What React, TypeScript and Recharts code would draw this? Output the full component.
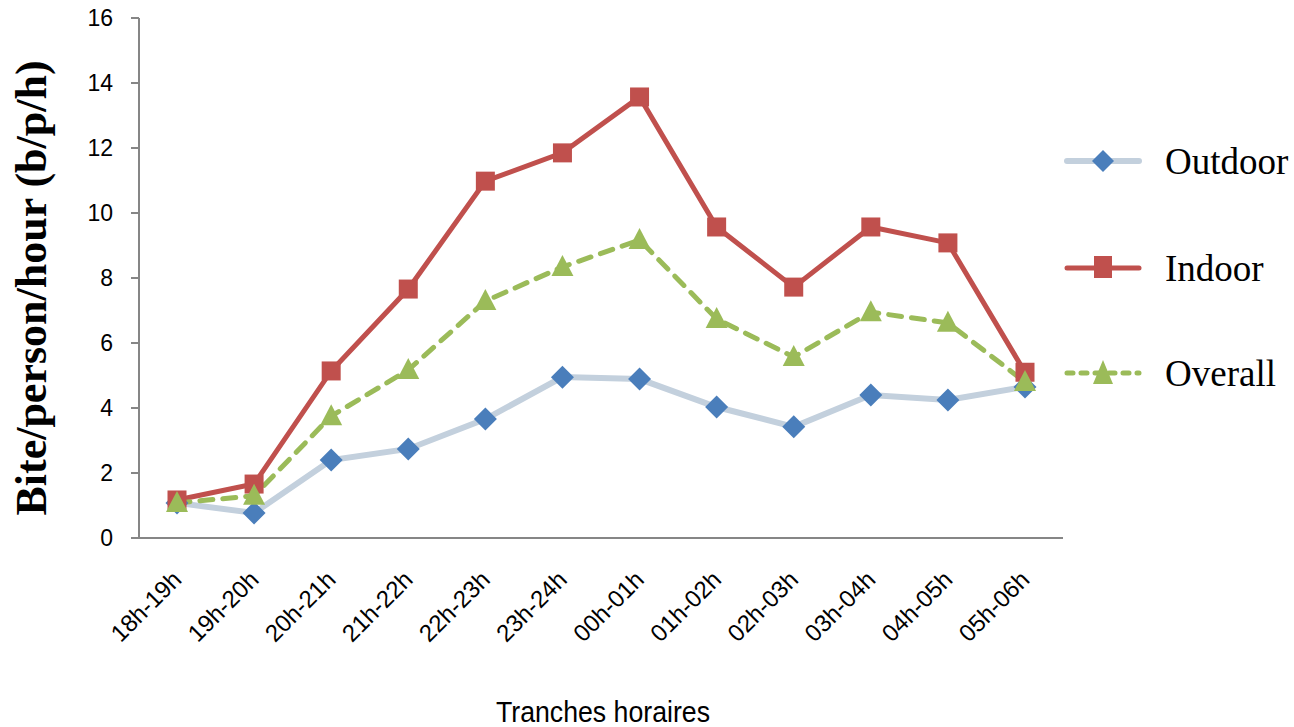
import React from 'react';
import { LineChart, Line, XAxis, YAxis } from 'recharts';

const categories = ['18h-19h', '19h-20h', '20h-21h', '21h-22h', '22h-23h', '23h-24h', '00h-01h', '01h-02h', '02h-03h', '03h-04h', '04h-05h', '05h-06h'];
const outdoor = [1.08, 0.77, 2.4, 2.74, 3.66, 4.95, 4.89, 4.03, 3.42, 4.4, 4.25, 4.65];
const indoor = [1.17, 1.66, 5.14, 7.66, 10.98, 11.85, 13.57, 9.57, 7.72, 9.57, 9.08, 5.1];
const overall = [1.08, 1.3, 3.75, 5.17, 7.29, 8.34, 9.17, 6.74, 5.57, 6.95, 6.62, 4.8];
const yTicks = [0, 2, 4, 6, 8, 10, 12, 14, 16];
const seriesNames = ['Outdoor', 'Indoor', 'Overall'];

const data = categories.map((c, i) => ({ cat: c, Outdoor: outdoor[i], Indoor: indoor[i], Overall: overall[i] }));

const Diamond = (p: any) => {
  const { cx, cy } = p;
  if (cx == null || cy == null) return null;
  const r = 11.5;
  return <polygon key={`d${p.index}`} points={`${cx},${cy - r} ${cx + r},${cy} ${cx},${cy + r} ${cx - r},${cy}`} fill="#4a7ebb" />;
};
const Square = (p: any) => {
  const { cx, cy } = p;
  if (cx == null || cy == null) return null;
  const s = 19;
  return <rect key={`s${p.index}`} x={cx - s / 2} y={cy - s / 2} width={s} height={s} fill="#c0504d" />;
};
const Triangle = (p: any) => {
  const { cx, cy } = p;
  if (cx == null || cy == null) return null;
  return <polygon key={`t${p.index}`} points={`${cx},${cy - 12} ${cx + 11},${cy + 9} ${cx - 11},${cy + 9}`} fill="#9bbb59" />;
};

const XTick = (p: any) => {
  const { x, y, payload } = p;
  const ax = x + 6;
  const ay = y + 35;
  return (
    <text x={ax} y={ay} transform={`rotate(-45 ${ax} ${ay})`} textAnchor="end" fontSize={24} fontFamily="'Liberation Sans', Arial, sans-serif" fill="#000">
      {payload.value}
    </text>
  );
};

const YTick = (p: any) => {
  const { x, y, payload } = p;
  return (
    <text x={x} y={y + 8} textAnchor="end" fontSize={23} fontFamily="'Liberation Sans', Arial, sans-serif" fill="#000">
      {payload.value}
    </text>
  );
};

const YLabel = (p: any) => {
  const vb = p.viewBox || { x: 0, y: 18, height: 520 };
  const x = vb.x + 46;
  const y = vb.y + vb.height / 2 + 10;
  return (
    <text x={x} y={y} transform={`rotate(-90 ${x} ${y})`} textAnchor="middle" fontSize={44} fontWeight="bold" fontFamily="'Liberation Serif', 'Times New Roman', serif" fill="#000">
      Bite/person/hour (b/p/h)
    </text>
  );
};

const XLabel = (p: any) => {
  const vb = p.viewBox || { x: 139, y: 538, width: 924 };
  const x = vb.x + vb.width / 2 - 105;
  const y = vb.y + 184;
  return (
    <text x={x} y={y} textLength={214} lengthAdjust="spacingAndGlyphs" fontSize={30} fontFamily="'Liberation Sans Narrow', 'Liberation Sans', sans-serif" fill="#000">
      Tranches horaires
    </text>
  );
};

const LegendIcon = ({ i }: { i: number }) => {
  const w = 80, h = 30, cy = 15, cx = 40;
  if (i === 0)
    return (
      <svg width={w} height={h}>
        <line x1={4} y1={cy} x2={76} y2={cy} stroke="#c3d0dd" strokeWidth={6} strokeLinecap="round" />
        <polygon points={`${cx},${cy - 11} ${cx + 11},${cy} ${cx},${cy + 11} ${cx - 11},${cy}`} fill="#4a7ebb" />
      </svg>
    );
  if (i === 1)
    return (
      <svg width={w} height={h}>
        <line x1={4} y1={cy} x2={76} y2={cy} stroke="#c0504d" strokeWidth={5} strokeLinecap="round" />
        <rect x={cx - 9} y={cy - 12} width={18} height={22} fill="#c0504d" />
      </svg>
    );
  return (
    <svg width={w} height={h}>
      <line x1={4} y1={cy} x2={76} y2={cy} stroke="#9bbb59" strokeWidth={5} strokeLinecap="round" strokeDasharray="6 8" />
      <polygon points={`${cx},${cy - 13} ${cx + 10},${cy + 11} ${cx - 10},${cy + 11}`} fill="#9bbb59" />
    </svg>
  );
};

const legendTops = [146, 253, 358];

export default function App() {
  return (
    <div style={{ position: 'absolute', left: 0, top: 0, width: 1294, height: 727, background: '#fff' }}>
      <LineChart width={1294} height={727} data={data} margin={{ top: 18, right: 231, bottom: 0, left: 0 }}>
        <XAxis
          dataKey="cat"
          height={189}
          padding={{ left: 38, right: 38 }}
          tick={<XTick />}
          tickLine={false}
          axisLine={{ stroke: '#868686', strokeWidth: 2 }}
          interval={0}
          label={<XLabel />}
        />
        <YAxis
          width={139}
          domain={[0, 16]}
          ticks={yTicks}
          tickSize={8}
          tickMargin={18}
          tick={<YTick />}
          tickLine={{ stroke: '#868686', strokeWidth: 2 }}
          axisLine={{ stroke: '#868686', strokeWidth: 2 }}
          label={<YLabel />}
        />
        <Line dataKey="Outdoor" stroke="#c3d0dd" strokeWidth={6} dot={<Diamond />} activeDot={false} isAnimationActive={false} />
        <Line dataKey="Indoor" stroke="#c0504d" strokeWidth={5} dot={<Square />} activeDot={false} isAnimationActive={false} />
        <Line dataKey="Overall" stroke="#9bbb59" strokeWidth={5} strokeDasharray="13 10" strokeLinecap="round" dot={<Triangle />} activeDot={false} isAnimationActive={false} />
      </LineChart>
      {seriesNames.map((n, i) => (
        <div key={n} style={{ position: 'absolute', left: 1063, top: legendTops[i], display: 'flex', alignItems: 'center', height: 30 }}>
          <LegendIcon i={i} />
          <span style={{ marginLeft: 22, fontFamily: "'Liberation Serif', 'Times New Roman', serif", fontSize: 37, color: '#000', whiteSpace: 'nowrap' }}>{n}</span>
        </div>
      ))}
    </div>
  );
}
